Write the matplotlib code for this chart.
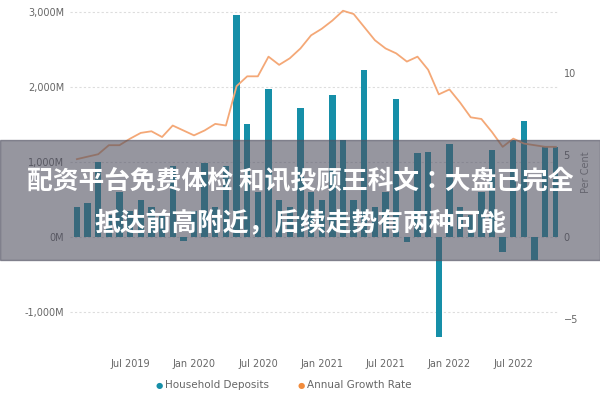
"""Household deposits vs annual growth rate, with news banner overlay."""
import matplotlib
matplotlib.use("Agg")
import matplotlib.pyplot as plt
from matplotlib import font_manager
import numpy as np

# Monthly, Feb 2019 .. Nov 2022
deposits = [400, 450, 1000, 300, 600, 350, 500, 400, 300, 950,
            -50, 350, 980, 400, 950, 2960, 1500, 600, 1970, 500,
            400, 1720, 600, 500, 1890, 1290, 500, 2230, 400, 600,
            1840, -60, 1120, 1130, -1330, 1240, 400, 300, 600, 1160,
            -200, 1290, 1540, -310, 1200, 1200]
growth = [4.75, 4.9, 5.05, 5.6, 5.6, 6.0, 6.35, 6.45, 6.1, 6.8,
          6.5, 6.2, 6.5, 6.9, 6.8, 9.2, 9.8, 9.8, 11.0, 10.5,
          10.9, 11.5, 12.3, 12.7, 13.2, 13.8, 13.6, 12.8, 12.0, 11.5,
          11.2, 10.7, 11.0, 10.2, 8.7, 9.0, 8.2, 7.3, 7.2, 6.4,
          5.5, 6.0, 5.7, 5.6, 5.5, 5.5]
tick_pos = [5, 11, 17, 23, 29, 35, 41]
tick_labels = ["Jul 2019", "Jan 2020", "Jul 2020", "Jan 2021",
               "Jul 2021", "Jan 2022", "Jul 2022"]
left_ticks = [-1000, 0, 1000, 2000, 3000]
left_labels = ["-1,000M", "0M", "1,000M", "2,000M", "3,000M"]
right_ticks = [-5, 0, 5, 10]

cjk = [f.name for f in font_manager.fontManager.ttflist if "CJK" in f.name]
cjk_family = ["Noto Sans CJK SC"] + sorted(set(cjk)) + ["DejaVu Sans"]

fig = plt.figure(figsize=(6, 4), dpi=100)
ax = fig.add_axes([70 / 600, 60 / 400, 488 / 600, 335 / 400])
x = np.arange(len(deposits))
ax.bar(x, deposits, width=0.6, color="#168FA8", zorder=2)
ax.set_xlim(-0.65, 45.2)
ax.set_ylim(-1373, 3093)
ax.set_yticks(left_ticks)
ax.set_yticklabels(left_labels)
ax.set_xticks(tick_pos)
ax.set_xticklabels(tick_labels)
ax.grid(axis="y", color="#dddddd", ls=(0, (2, 2)), lw=0.8, zorder=0)
for s in ax.spines.values():
    s.set_visible(False)
ax.tick_params(length=0, labelsize=7, colors="#666666", pad=14)
ax.tick_params(axis="y", pad=4)

ax2 = ax.twinx()
ax2.plot(x, growth, color="#F4A877", lw=1.3, zorder=3)
ax2.set_ylim(-6.28, 14.15)
ax2.set_yticks(right_ticks)
for s in ax2.spines.values():
    s.set_visible(False)
ax2.tick_params(length=0, labelsize=7, colors="#666666", pad=4)
ax2.set_ylabel("Per Cent", fontsize=7, color="#888888", labelpad=2)

fig.text(0.272, 0.037, "\u25cf", color="#168FA8", fontsize=6, ha="right", va="center")
fig.text(0.275, 0.037, "Household Deposits", color="#666666", fontsize=7.5, ha="left", va="center")
fig.text(0.508, 0.037, "\u25cf", color="#F28C3C", fontsize=6, ha="right", va="center")
fig.text(0.511, 0.037, "Annual Growth Rate", color="#666666", fontsize=7.5, ha="left", va="center")

# news banner overlay
fig.patches.append(plt.Rectangle((0, 140 / 400), 1, 120 / 400, transform=fig.transFigure,
                                 color="#505060", alpha=0.6, zorder=10))
fig.text(0.5, 0.545, "配资平台免费体检 和讯投顾王科文：大盘已完全", color="white",
         fontsize=18.5, fontweight="bold", ha="center", va="center",
         family=cjk_family, zorder=11)
fig.text(0.5, 0.4425, "抵达前高附近，后续走势有两种可能", color="white",
         fontsize=18.5, fontweight="bold", ha="center", va="center",
         family=cjk_family, zorder=11)

fig.savefig("out.png", dpi=100)
